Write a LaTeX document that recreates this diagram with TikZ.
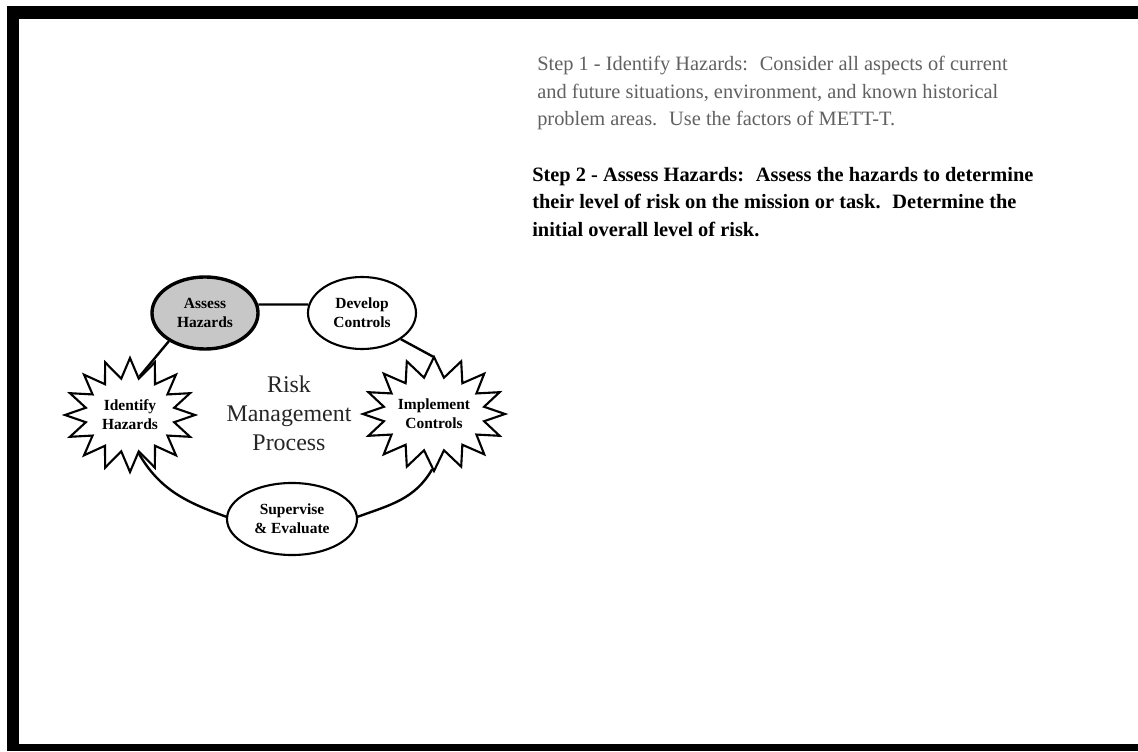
\documentclass[tikz,border=0pt]{standalone}
\usepackage{fontspec}
\setmainfont{Liberation Serif}
\usepackage{tikz}
\usetikzlibrary{shapes.geometric,shapes.symbols}
\tikzset{x=0.025cm, y=0.025cm, link/.style={draw,line width=1.7pt}}
\tikzstyle{phase}=[ellipse,draw=black,fill=white,line width=1.5pt,inner sep=0pt,align=center,font=\bfseries\fontsize{11}{13.5}\selectfont]
\tikzstyle{current}=[phase,fill=black!22,line width=2.4pt]
\tikzstyle{hazardstar}=[starburst,starburst points=16,starburst point height=0.5cm,random starburst=0,draw=black,fill=white,line width=1.5pt,inner sep=0pt,minimum width=3.25cm,minimum height=2.85cm,align=center,font=\bfseries\fontsize{11}{13.5}\selectfont]

\begin{document}
\begin{tikzpicture}
	\useasboundingbox (0,0) rectangle (1138,751);
	\fill[black] (7,0) rectangle (1138,745);
	\fill[white] (19,7) rectangle (1138,732);
	\node at (205,438) [current,minimum width=2.65cm,minimum height=1.8cm] (assess) {Assess\\Hazards};
	\node at (362,438) [phase,minimum width=2.7cm,minimum height=1.8cm] (develop) {Develop\\Controls};
	\node at (130,336) [hazardstar] (identify) {Identify\\Hazards};
	\node at (434,337) [hazardstar] (implement) {Implement\\Controls};
	\node at (292,232) [phase,minimum width=3.25cm,minimum height=1.8cm] (supervise) {Supervise\\\& Evaluate};
	\node at (289,338) [align=center,text=black!85,font=\fontsize{17}{20.5}\selectfont] (rmp) {Risk\\Management\\Process};
	\draw[link] (assess.9) -- (develop.171);
	\draw[link] (assess.218) -- (identify.76);
	\draw[link] (develop.326) -- (implement.91);
	\draw[link] (identify.283) to[out=-60,in=160] (supervise.178);
	\draw[link] (supervise.2) to[out=20,in=-120] (implement.268);
	\node at (537,695) [anchor=north west,inner sep=0pt,align=left,text=black!62,font=\fontsize{14.5}{19.5}\selectfont] (step1) {Step 1 - Identify Hazards:~ Consider all aspects of current\\and future situations, environment, and known historical\\problem areas.~ Use the factors of METT-T.};
	\node at (532,584) [anchor=north west,inner sep=0pt,align=left,font=\bfseries\fontsize{14.5}{19.5}\selectfont] (step2) {Step 2 - Assess Hazards:~ Assess the hazards to determine\\their level of risk on the mission or task.~ Determine the\\initial overall level of risk.};
\end{tikzpicture}
\end{document}
